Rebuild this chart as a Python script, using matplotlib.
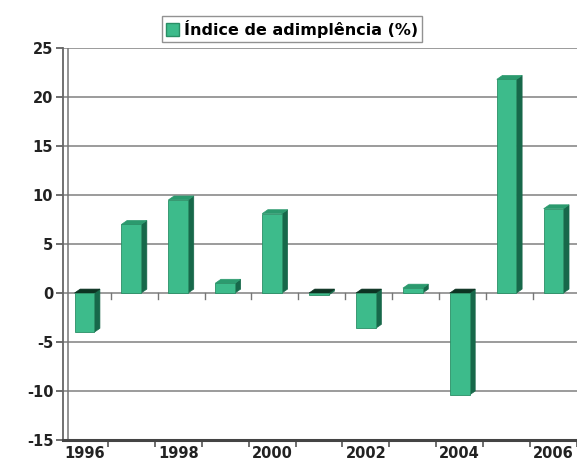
import matplotlib

matplotlib.use("Agg")
import matplotlib.pyplot as plt
from matplotlib.patches import Polygon, Patch

# Índice de adimplência (%) por ano
years = [1996, 1997, 1998, 1999, 2000, 2001, 2002, 2003, 2004, 2005, 2006]
values = [-4.0, 7.0, 9.5, 1.0, 8.1, -0.2, -3.6, 0.5, -10.4, 21.8, 8.6]
tick_years = [1996, 1998, 2000, 2002, 2004, 2006]
yticks = [-15, -10, -5, 0, 5, 10, 15, 20, 25]
series_label = "Índice de adimplência (%)"

FRONT = "#3dbb8b"
SIDE = "#17684a"
TOP = "#2b9a6e"
TOP_NEG = "#0c3322"
GRID = "#939393"

W, H = 577, 471
fig = plt.figure(figsize=(W / 100, H / 100), dpi=100)
ax = fig.add_axes([63 / W, (H - 440) / H, 1 - 63 / W, (440 - 48) / H])

xs = list(range(len(years)))
bw = 0.42      # front face width (category units)
dx = 0.12      # depth offset, x
dy = 0.40      # depth offset, y

for yv in yticks:
    ax.axhline(yv, color=GRID, lw=1.3, zorder=1)

for x, v in zip(xs, values):
    x0, x1 = x - bw / 2, x + bw / 2
    # side face
    ax.add_patch(Polygon([(x1, 0), (x1 + dx, dy), (x1 + dx, v + dy), (x1, v)],
                         closed=True, facecolor=SIDE, edgecolor=SIDE, lw=0.5, zorder=3))
    # top face
    ytop = max(v, 0)
    ax.add_patch(Polygon([(x0, ytop), (x0 + dx, ytop + dy), (x1 + dx, ytop + dy), (x1, ytop)],
                         closed=True, facecolor=TOP if v > 0 else TOP_NEG,
                         edgecolor=TOP if v > 0 else TOP_NEG, lw=0.5, zorder=3))
ax.bar(xs, values, width=bw, color=FRONT, edgecolor="#2a8f66", lw=0.6, zorder=4)

# small category ticks along the zero line
for b in range(1, len(years)):
    ax.plot([b - 0.5 + dx / 2, b - 0.5 + dx / 2], [0, -0.6], color="#777777", lw=1.0, zorder=2)

ax.set_xlim(-0.457, 10.5)
ax.set_ylim(-15, 25)
ax.set_yticks(yticks)
ax.set_yticklabels([str(t) for t in yticks])
ax.set_xticks([years.index(y) for y in tick_years])
ax.set_xticklabels([str(y) for y in tick_years])
ax.set_xticks([b - 0.5 for b in range(1, len(years) + 1)], minor=True)
ax.tick_params(axis="both", which="major", labelsize=10.5, length=5, color="#555555",
               width=1.2, pad=2)
ax.tick_params(axis="x", which="major", length=0, pad=4)
ax.tick_params(axis="x", which="minor", length=5, color="#555555", width=1.2)
for lab in ax.get_xticklabels() + ax.get_yticklabels():
    lab.set_fontweight("bold")
    lab.set_color("#222222")

for side in ("top", "right"):
    ax.spines[side].set_visible(False)
ax.spines["left"].set_color("#666666")
ax.spines["left"].set_linewidth(1.3)
ax.spines["bottom"].set_color("#444444")
ax.spines["bottom"].set_linewidth(2.2)
# inner wall edge
ax.axvline(-0.457 + 5 / 47, color="#777777", lw=1.1, zorder=2)

fig.legend(handles=[Patch(facecolor=FRONT, edgecolor="#2a8f66", label=series_label)],
           loc="center", bbox_to_anchor=(292 / W, 1 - 29 / H), frameon=True,
           fancybox=False, edgecolor="#777777", handlelength=0.8, handleheight=0.8,
           handletextpad=0.3, borderpad=0.25, prop={"weight": "bold", "size": 11.5})

fig.savefig("out.png", dpi=100)
